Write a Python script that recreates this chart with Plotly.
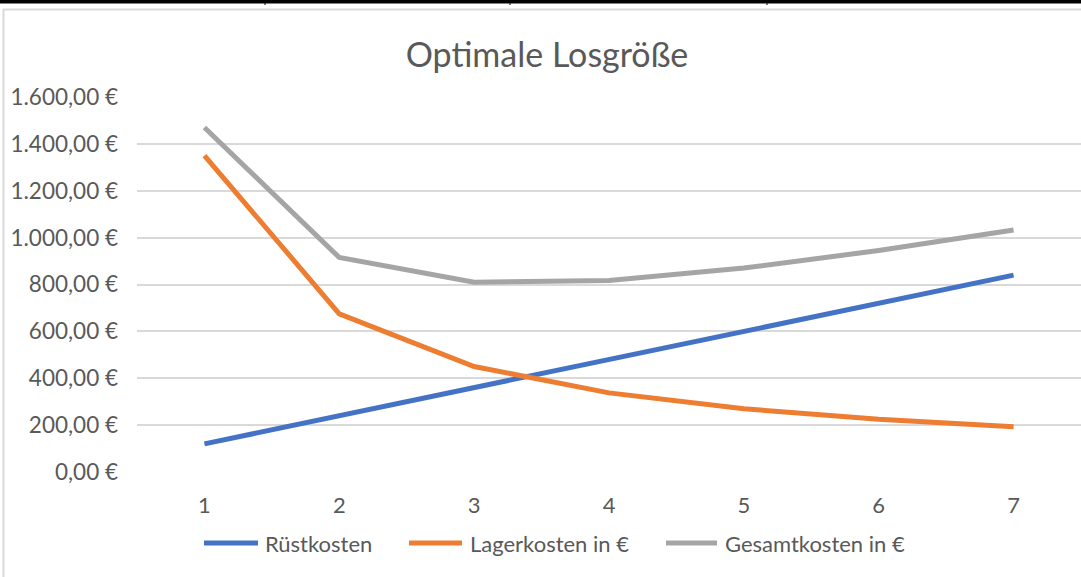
import plotly.graph_objects as go

# Data
losgroesse = [1, 2, 3, 4, 5, 6, 7]
ruestkosten = [120, 240, 360, 480, 600, 720, 840]
lagerkosten = [1350, 675, 450, 337.5, 270, 225, 192.86]
gesamtkosten = [1470, 915, 810, 817.5, 870, 945, 1032.86]
serien = ["Rüstkosten", "Lagerkosten in €", "Gesamtkosten in €"]
farben = ["#4472C4", "#ED7D31", "#A5A5A5"]

W, H = 1081, 577
L, R, T, B = 137, 0, 97, 105
PW, PH = W - L - R, H - T - B

def px(x):
    return (x - L) / PW

def py(y):
    return (H - B - y) / PH

FONT = "Lato"
TXT = "#595959"

fig = go.Figure()
for name, vals, col in zip(serien, [ruestkosten, lagerkosten, gesamtkosten], farben):
    fig.add_trace(go.Scatter(x=losgroesse, y=vals, mode="lines", name=name,
                             line=dict(color=col, width=5), showlegend=False))

shapes = [
    # chart border (left and top)
    dict(type="line", xref="paper", yref="paper", x0=px(3.5), x1=px(3.5), y0=py(9), y1=py(H + 5),
         line=dict(color="#d9d9d9", width=2)),
    dict(type="line", xref="paper", yref="paper", x0=px(3), x1=px(W + 5), y0=py(9.5), y1=py(9.5),
         line=dict(color="#d9d9d9", width=2)),
    # top black table line
    dict(type="rect", xref="paper", yref="paper", x0=px(-5), x1=px(W + 5), y0=py(3.5), y1=py(-5),
         fillcolor="black", line=dict(width=0)),
]
for vx in [265, 510, 767]:
    shapes.append(dict(type="line", xref="paper", yref="paper", x0=px(vx), x1=px(vx),
                       y0=py(5), y1=py(-5), line=dict(color="black", width=1)))

# manual legend (Excel style: long line sample)
leg_line_x = [(204, 258), (409, 462), (666, 717)]
leg_text_x = [263, 468, 723]
leg_y = 543
annotations = []
for (x0, x1), tx, name, col in zip(leg_line_x, leg_text_x, serien, farben):
    shapes.append(dict(type="line", xref="paper", yref="paper", x0=px(x0), x1=px(x1),
                       y0=py(leg_y), y1=py(leg_y), line=dict(color=col, width=5)))
    annotations.append(dict(text=name, xref="paper", yref="paper", x=px(tx), y=py(leg_y),
                            xanchor="left", yanchor="middle", showarrow=False,
                            font=dict(family=FONT, size=22, color=TXT)))

fig.update_layout(
    width=W, height=H,
    margin=dict(l=L, r=R, t=T, b=B),
    paper_bgcolor="white", plot_bgcolor="white",
    separators=",.",
    font=dict(family=FONT, color=TXT, size=22),
    title=dict(text="Optimale Losgröße", x=547 / W, xanchor="center", xref="container",
               y=1 - 55 / H, yanchor="middle", yref="container",
               font=dict(family=FONT, size=34, color=TXT)),
    xaxis=dict(range=[0.5, 7.5], tickvals=losgroesse, showgrid=False, zeroline=False,
               showline=False, ticks="", ticklabelstandoff=18,
               tickfont=dict(size=22, color=TXT)),
    yaxis=dict(range=[0, 1600], dtick=200, tickformat=",.2f", ticksuffix=" €",
               showgrid=True, gridcolor="#d9d9d9", gridwidth=1.5, zeroline=False,
               showline=False, ticks="", ticklabelstandoff=18,
               tickfont=dict(size=22.5, color=TXT)),
    shapes=shapes,
    annotations=annotations,
    showlegend=False,
)

fig.write_html("out.html", config={"displayModeBar": False},
               post_script="document.body.style.margin='0';document.body.style.overflow='hidden';")
